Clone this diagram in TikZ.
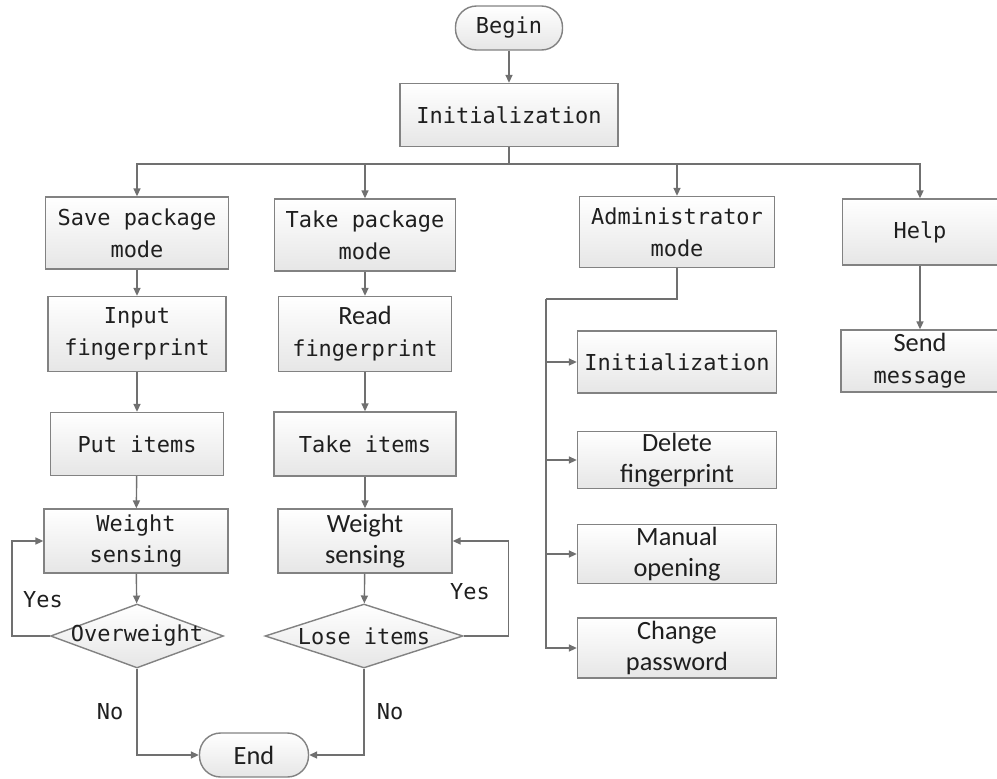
\documentclass[tikz,border=0pt]{standalone}
\usepackage{fontspec}
\usetikzlibrary{shapes.geometric,arrows.meta}
\newfontfamily\flowmono{DejaVu Sans Mono}
\newfontfamily\flowcali{Carlito}
\newcommand{\calisize}{\flowcali\fontsize{15}{18}\selectfont}
\definecolor{linegray}{RGB}{112,112,112}
\definecolor{boxgray}{RGB}{130,130,130}
\definecolor{fillgray}{RGB}{230,230,230}
\begin{document}
\begin{tikzpicture}[x=0.02cm, y=-0.02cm, >={Triangle[length=4.5pt,width=4pt]},
        wh/.style 2 args={minimum width=#1*0.02cm, minimum height=#2*0.02cm},
        mono/.style={font=\flowmono\fontsize{12.5}{18}\selectfont},
        cali/.style={font=\calisize},
        box/.style={rectangle, draw=boxgray, line width=0.8pt, top color=white, bottom color=fillgray,
            align=center, inner sep=0pt, text=black!88, mono},
        term/.style={box, rounded corners=12pt},
        decision/.style={diamond, draw=boxgray, line width=0.8pt, top color=white, bottom color=fillgray, inner sep=0pt},
        flow/.style={draw=linegray, line width=0.8pt},
        answer/.style={text=black!88, mono}]
        \useasboundingbox (0,0) rectangle (997,778);

        % top
        \node[term, wh={107}{44}] (begin) at (509,28) {Begin};
        \node[box, wh={218}{63}] (init) at (509,115) {Initialization};
        \coordinate (bus) at (509,164);

        % modes
        \node[box, wh={183}{72}] (save) at (137,233) {Save package\\mode};
        \node[box, wh={181}{72}] (take) at (365,235) {Take package\\mode};
        \node[box, wh={195}{71}] (admin) at (677,232) {Administrator\\mode};
        \node[box, wh={155}{66}] (help) at (920,232) {Help};

        % save package
        \node[box, wh={178}{75}] (input) at (137,334) {Input\\fingerprint};
        \node[box, wh={173}{63}] (put) at (137,444) {Put items};
        \node[box, wh={184}{64}] (wsave) at (136,541) {Weight\\sensing};
        \node[decision, wh={173}{64}] (over) at (137,636) {};
        \node[answer] (overtext) at (over) {Overweight};

        % take package
        \node[box, wh={173}{75}] (read) at (365,334) {{\calisize Read}\\fingerprint};
        \node[box, wh={182}{64}] (takeit) at (365,444) {Take items};
        \node[box, cali, wh={174}{64}] (wtake) at (365,541) {Weight\\sensing};
        \node[decision, wh={198}{64}] (lose) at (364,636) {};
        \node[answer] (losetext) at (lose) {Lose items};

        \node[term, cali, wh={109}{44}] (end) at (254,755) {End};

        % administrator
        \node[box, wh={199}{62}] (ainit) at (677,362) {Initialization};
        \node[box, cali, wh={199}{57}] (adel) at (677,460) {Delete\\fingerprint};
        \node[box, cali, wh={199}{59}] (aman) at (677,554) {Manual\\opening};
        \node[box, cali, wh={199}{60}] (apass) at (677,648) {Change\\password};
        \coordinate (trunk) at (546,299);

        % help
        \node[box, wh={158}{62}] (send) at (920,361) {{\calisize Send}\\message};

        \node[answer] (yes1) at (43,600) {Yes};
        \node[answer] (no1) at (110,712) {No};
        \node[answer] (yes2) at (470,592) {Yes};
        \node[answer] (no2) at (390,712) {No};

        % connectors
        \draw[flow, ->] (begin) -- (init);
        \draw[flow] (init) -- (bus);
        \draw[flow, ->] (bus) -| (save);
        \draw[flow, ->] (bus) -| (take);
        \draw[flow, ->] (bus) -| (admin);
        \draw[flow, ->] (bus) -| (help);

        \draw[flow, ->] (save) -- (input);
        \draw[flow, ->] (input) -- (put);
        \draw[flow, ->] (put) -- (wsave);
        \draw[flow, ->] (wsave) -- (over);
        \draw[flow, ->] (over.west) -- ++(-38,0) |- (wsave.west);
        \draw[flow, ->] (over.south) |- (end.west);

        \draw[flow, ->] (take) -- (read);
        \draw[flow, ->] (read) -- (takeit);
        \draw[flow, ->] (takeit) -- (wtake);
        \draw[flow, ->] (wtake) -- (lose);
        \draw[flow, ->] (lose.east) -- ++(45,0) |- (wtake.east);
        \draw[flow, ->] (lose.south) |- (end.east);

        \draw[flow] (admin.south) |- (trunk);
        \draw[flow, ->] (trunk) |- (apass.west);
        \draw[flow, ->] (trunk |- ainit.west) -- (ainit.west);
        \draw[flow, ->] (trunk |- adel.west) -- (adel.west);
        \draw[flow, ->] (trunk |- aman.west) -- (aman.west);

        \draw[flow, ->] (help) -- (send);
    \end{tikzpicture}
\end{document}
